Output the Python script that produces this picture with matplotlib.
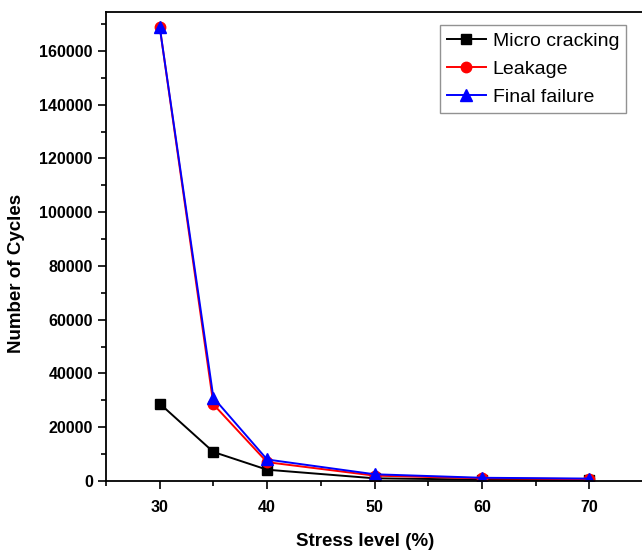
import matplotlib
matplotlib.use("Agg")
import matplotlib.pyplot as plt
from matplotlib.ticker import MultipleLocator

stress = [30, 35, 40, 50, 60, 70]
micro = [28800, 10800, 4200, 1000, 500, 300]
leakage = [169000, 28500, 7000, 2000, 1000, 700]
final = [169000, 31000, 8000, 2500, 1200, 900]
xticks = [30, 40, 50, 60, 70]

plt.rcParams['font.family'] = ['Liberation Sans', 'DejaVu Sans']

fig = plt.figure(figsize=(6.42, 5.56), dpi=100)
ax = fig.add_axes([0.1651, 0.1349, 0.8365, 0.8435])

ax.plot(stress, micro, color='black', marker='s', markersize=7.5, lw=1.4, label='Micro cracking')
ax.plot(stress, leakage, color='red', marker='o', markersize=7.5, lw=1.4, label='Leakage')
ax.plot(stress, final, color='blue', marker='^', markersize=8.5, lw=1.4, label='Final failure')

ax.set_xlim(25, 75)
ax.set_ylim(0, 174500)
ax.set_xticks(xticks)
ax.xaxis.set_minor_locator(MultipleLocator(5))
ax.yaxis.set_major_locator(MultipleLocator(20000))
ax.yaxis.set_minor_locator(MultipleLocator(10000))
ax.tick_params(which='both', direction='out', width=1.2)
ax.tick_params(which='major', length=6, labelsize=11.5)
ax.tick_params(axis='x', which='major', pad=8)
ax.tick_params(which='minor', length=3.5)
for lab in ax.get_xticklabels() + ax.get_yticklabels():
    lab.set_fontweight('bold')
for s in ax.spines.values():
    s.set_linewidth(1.3)

ax.set_xlabel('Stress level (%)', fontsize=13.5, fontweight='bold')
ax.set_ylabel('Number of Cycles', fontsize=13.5, fontweight='bold')
ax.xaxis.set_label_coords(0.482, -0.11)
ax.yaxis.set_label_coords(-0.151, 0.443)

leg = ax.legend(loc='upper right', bbox_to_anchor=(0.968, 0.972), fontsize=14, frameon=True,
                fancybox=False, edgecolor='#777777', handlelength=2.0, borderpad=0.35,
                labelspacing=0.55, handletextpad=0.35, borderaxespad=0)
leg.get_frame().set_linewidth(1.0)

fig.savefig('out.png', dpi=100)
